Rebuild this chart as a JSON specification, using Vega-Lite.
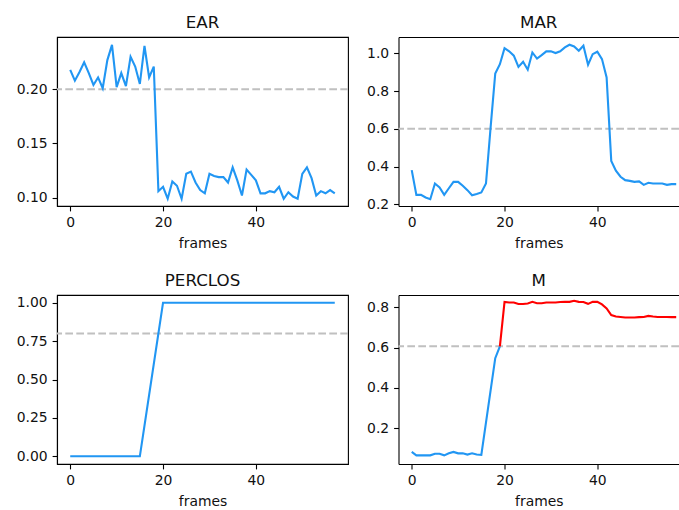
{
  "$schema": "https://vega.github.io/schema/vega-lite/v6.json",
  "background": "white",
  "padding": {"left": 15, "top": 14, "right": 0, "bottom": 0},
  "config": {
    "font": "DejaVu Sans",
    "view": {"stroke": "#000", "strokeWidth": 1.1},
    "axis": {
      "labelFont": "DejaVu Sans", "labelFontSize": 13.9, "labelColor": "#111",
      "titleFont": "DejaVu Sans", "titleFontSize": 13.9, "titleFontWeight": "normal", "titleColor": "#111",
      "tickColor": "#000", "tickSize": 4.9, "tickWidth": 1.1, "labelPadding": 4.9,
      "domainColor": "#000", "domainWidth": 1.1, "grid": false, "titlePadding": 7
    },
    "title": {"font": "DejaVu Sans", "fontSize": 16.7, "fontWeight": "normal", "color": "#111", "offset": 5, "baseline": "alphabetic", "anchor": "middle"}
  },
  "datasets": {
    "ear": [
      {"frame": 0, "v": 0.218}, {"frame": 1, "v": 0.208}, {"frame": 2, "v": 0.216}, {"frame": 3, "v": 0.225},
      {"frame": 4, "v": 0.215}, {"frame": 5, "v": 0.204}, {"frame": 6, "v": 0.211}, {"frame": 7, "v": 0.201},
      {"frame": 8, "v": 0.227}, {"frame": 9, "v": 0.241}, {"frame": 10, "v": 0.202}, {"frame": 11, "v": 0.215},
      {"frame": 12, "v": 0.203}, {"frame": 13, "v": 0.230}, {"frame": 14, "v": 0.221}, {"frame": 15, "v": 0.205},
      {"frame": 16, "v": 0.240}, {"frame": 17, "v": 0.211}, {"frame": 18, "v": 0.221}, {"frame": 19, "v": 0.106},
      {"frame": 20, "v": 0.110}, {"frame": 21, "v": 0.099}, {"frame": 22, "v": 0.115}, {"frame": 23, "v": 0.111},
      {"frame": 24, "v": 0.099}, {"frame": 25, "v": 0.122}, {"frame": 26, "v": 0.124}, {"frame": 27, "v": 0.114},
      {"frame": 28, "v": 0.107}, {"frame": 29, "v": 0.104}, {"frame": 30, "v": 0.122}, {"frame": 31, "v": 0.120},
      {"frame": 32, "v": 0.119}, {"frame": 33, "v": 0.119}, {"frame": 34, "v": 0.114}, {"frame": 35, "v": 0.128},
      {"frame": 36, "v": 0.116}, {"frame": 37, "v": 0.102}, {"frame": 38, "v": 0.126}, {"frame": 39, "v": 0.121},
      {"frame": 40, "v": 0.116}, {"frame": 41, "v": 0.104}, {"frame": 42, "v": 0.104}, {"frame": 43, "v": 0.106},
      {"frame": 44, "v": 0.105}, {"frame": 45, "v": 0.110}, {"frame": 46, "v": 0.099}, {"frame": 47, "v": 0.105},
      {"frame": 48, "v": 0.101}, {"frame": 49, "v": 0.099}, {"frame": 50, "v": 0.122}, {"frame": 51, "v": 0.128},
      {"frame": 52, "v": 0.118}, {"frame": 53, "v": 0.102}, {"frame": 54, "v": 0.106}, {"frame": 55, "v": 0.104},
      {"frame": 56, "v": 0.107}, {"frame": 57, "v": 0.104}
    ],
    "mar": [
      {"frame": 0, "v": 0.381}, {"frame": 1, "v": 0.250}, {"frame": 2, "v": 0.250}, {"frame": 3, "v": 0.236},
      {"frame": 4, "v": 0.227}, {"frame": 5, "v": 0.310}, {"frame": 6, "v": 0.289}, {"frame": 7, "v": 0.250},
      {"frame": 8, "v": 0.285}, {"frame": 9, "v": 0.319}, {"frame": 10, "v": 0.319}, {"frame": 11, "v": 0.298},
      {"frame": 12, "v": 0.275}, {"frame": 13, "v": 0.248}, {"frame": 14, "v": 0.255}, {"frame": 15, "v": 0.263},
      {"frame": 16, "v": 0.310}, {"frame": 17, "v": 0.607}, {"frame": 18, "v": 0.893}, {"frame": 19, "v": 0.942},
      {"frame": 20, "v": 1.027}, {"frame": 21, "v": 1.010}, {"frame": 22, "v": 0.987}, {"frame": 23, "v": 0.928},
      {"frame": 24, "v": 0.955}, {"frame": 25, "v": 0.913}, {"frame": 26, "v": 1.004}, {"frame": 27, "v": 0.972},
      {"frame": 28, "v": 0.990}, {"frame": 29, "v": 1.010}, {"frame": 30, "v": 1.010}, {"frame": 31, "v": 1.001},
      {"frame": 32, "v": 1.010}, {"frame": 33, "v": 1.031}, {"frame": 34, "v": 1.045}, {"frame": 35, "v": 1.036},
      {"frame": 36, "v": 1.013}, {"frame": 37, "v": 1.040}, {"frame": 38, "v": 0.939}, {"frame": 39, "v": 0.995},
      {"frame": 40, "v": 1.008}, {"frame": 41, "v": 0.969}, {"frame": 42, "v": 0.872}, {"frame": 43, "v": 0.430},
      {"frame": 44, "v": 0.378}, {"frame": 45, "v": 0.346}, {"frame": 46, "v": 0.328}, {"frame": 47, "v": 0.324},
      {"frame": 48, "v": 0.319}, {"frame": 49, "v": 0.321}, {"frame": 50, "v": 0.303}, {"frame": 51, "v": 0.314},
      {"frame": 52, "v": 0.310}, {"frame": 53, "v": 0.310}, {"frame": 54, "v": 0.310}, {"frame": 55, "v": 0.303},
      {"frame": 56, "v": 0.307}, {"frame": 57, "v": 0.307}
    ],
    "perclos": [
      {"frame": 0, "v": 0}, {"frame": 1, "v": 0}, {"frame": 2, "v": 0}, {"frame": 3, "v": 0},
      {"frame": 4, "v": 0}, {"frame": 5, "v": 0}, {"frame": 6, "v": 0}, {"frame": 7, "v": 0},
      {"frame": 8, "v": 0}, {"frame": 9, "v": 0}, {"frame": 10, "v": 0}, {"frame": 11, "v": 0},
      {"frame": 12, "v": 0}, {"frame": 13, "v": 0}, {"frame": 14, "v": 0}, {"frame": 15, "v": 0},
      {"frame": 16, "v": 0.2}, {"frame": 17, "v": 0.4}, {"frame": 18, "v": 0.6}, {"frame": 19, "v": 0.8},
      {"frame": 20, "v": 1}, {"frame": 21, "v": 1}, {"frame": 22, "v": 1}, {"frame": 23, "v": 1},
      {"frame": 24, "v": 1}, {"frame": 25, "v": 1}, {"frame": 26, "v": 1}, {"frame": 27, "v": 1},
      {"frame": 28, "v": 1}, {"frame": 29, "v": 1}, {"frame": 30, "v": 1}, {"frame": 31, "v": 1},
      {"frame": 32, "v": 1}, {"frame": 33, "v": 1}, {"frame": 34, "v": 1}, {"frame": 35, "v": 1},
      {"frame": 36, "v": 1}, {"frame": 37, "v": 1}, {"frame": 38, "v": 1}, {"frame": 39, "v": 1},
      {"frame": 40, "v": 1}, {"frame": 41, "v": 1}, {"frame": 42, "v": 1}, {"frame": 43, "v": 1},
      {"frame": 44, "v": 1}, {"frame": 45, "v": 1}, {"frame": 46, "v": 1}, {"frame": 47, "v": 1},
      {"frame": 48, "v": 1}, {"frame": 49, "v": 1}, {"frame": 50, "v": 1}, {"frame": 51, "v": 1},
      {"frame": 52, "v": 1}, {"frame": 53, "v": 1}, {"frame": 54, "v": 1}, {"frame": 55, "v": 1},
      {"frame": 56, "v": 1}, {"frame": 57, "v": 1}
    ],
    "m": [
      {"frame": 0, "v": 0.082, "seg": "below"}, {"frame": 1, "v": 0.065, "seg": "below"}, {"frame": 2, "v": 0.065, "seg": "below"},
      {"frame": 3, "v": 0.065, "seg": "below"}, {"frame": 4, "v": 0.065, "seg": "below"}, {"frame": 5, "v": 0.073, "seg": "below"},
      {"frame": 6, "v": 0.073, "seg": "below"}, {"frame": 7, "v": 0.065, "seg": "below"}, {"frame": 8, "v": 0.075, "seg": "below"},
      {"frame": 9, "v": 0.082, "seg": "below"}, {"frame": 10, "v": 0.075, "seg": "below"}, {"frame": 11, "v": 0.075, "seg": "below"},
      {"frame": 12, "v": 0.069, "seg": "below"}, {"frame": 13, "v": 0.075, "seg": "below"}, {"frame": 14, "v": 0.069, "seg": "below"},
      {"frame": 15, "v": 0.067, "seg": "below"}, {"frame": 16, "v": 0.228, "seg": "below"}, {"frame": 17, "v": 0.388, "seg": "below"},
      {"frame": 18, "v": 0.548, "seg": "below"}, {"frame": 19, "v": 0.607, "seg": "below"},
      {"frame": 19, "v": 0.607, "seg": "above"}, {"frame": 20, "v": 0.828, "seg": "above"}, {"frame": 21, "v": 0.825, "seg": "above"},
      {"frame": 22, "v": 0.825, "seg": "above"}, {"frame": 23, "v": 0.817, "seg": "above"}, {"frame": 24, "v": 0.817, "seg": "above"},
      {"frame": 25, "v": 0.820, "seg": "above"}, {"frame": 26, "v": 0.828, "seg": "above"}, {"frame": 27, "v": 0.821, "seg": "above"},
      {"frame": 28, "v": 0.821, "seg": "above"}, {"frame": 29, "v": 0.825, "seg": "above"}, {"frame": 30, "v": 0.825, "seg": "above"},
      {"frame": 31, "v": 0.825, "seg": "above"}, {"frame": 32, "v": 0.827, "seg": "above"}, {"frame": 33, "v": 0.828, "seg": "above"},
      {"frame": 34, "v": 0.828, "seg": "above"}, {"frame": 35, "v": 0.833, "seg": "above"}, {"frame": 36, "v": 0.828, "seg": "above"},
      {"frame": 37, "v": 0.827, "seg": "above"}, {"frame": 38, "v": 0.818, "seg": "above"}, {"frame": 39, "v": 0.828, "seg": "above"},
      {"frame": 40, "v": 0.828, "seg": "above"}, {"frame": 41, "v": 0.815, "seg": "above"}, {"frame": 42, "v": 0.795, "seg": "above"},
      {"frame": 43, "v": 0.762, "seg": "above"}, {"frame": 44, "v": 0.755, "seg": "above"}, {"frame": 45, "v": 0.753, "seg": "above"},
      {"frame": 46, "v": 0.750, "seg": "above"}, {"frame": 47, "v": 0.750, "seg": "above"}, {"frame": 48, "v": 0.750, "seg": "above"},
      {"frame": 49, "v": 0.752, "seg": "above"}, {"frame": 50, "v": 0.753, "seg": "above"}, {"frame": 51, "v": 0.758, "seg": "above"},
      {"frame": 52, "v": 0.755, "seg": "above"}, {"frame": 53, "v": 0.753, "seg": "above"}, {"frame": 54, "v": 0.753, "seg": "above"},
      {"frame": 55, "v": 0.753, "seg": "above"}, {"frame": 56, "v": 0.752, "seg": "above"}, {"frame": 57, "v": 0.752, "seg": "above"}
    ]
  },
  "columns": 2,
  "bounds": "flush",
  "spacing": {"row": 89, "column": 50.5},
  "concat": [
    {
      "title": "EAR",
      "width": 291, "height": 169,
      "layer": [
        {
          "data": {"values": [{"v": 0.2}]},
          "mark": {"type": "rule", "color": "#c0c0c0", "strokeWidth": 2, "strokeDash": [7.7, 3.3]},
          "encoding": {"y": {"field": "v", "type": "quantitative", "scale": {"domain": [0.0923, 0.2483], "nice": false, "zero": false}, "axis": {"values": [0.1, 0.15, 0.2], "format": ".2f", "title": null}}}
        },
        {
          "data": {"name": "ear"},
          "mark": {"type": "line", "color": "#2196F3", "strokeWidth": 2.1},
          "encoding": {
            "x": {"field": "frame", "type": "quantitative", "scale": {"domain": [-2.85, 59.85], "nice": false, "zero": false}, "axis": {"values": [0, 20, 40], "title": "frames"}},
            "y": {"field": "v", "type": "quantitative", "scale": {"domain": [0.0923, 0.2483], "nice": false, "zero": false}, "axis": {"values": [0.1, 0.15, 0.2], "format": ".2f", "title": null}}
          }
        }
      ]
    },
    {
      "title": "MAR",
      "width": 280.5, "height": 169,
      "view": {"stroke": null},
      "resolve": {"axis": {"x": "independent"}},
      "layer": [
        {
          "data": {"values": [{"v": 0.6}]},
          "mark": {"type": "rule", "color": "#c0c0c0", "strokeWidth": 2, "strokeDash": [7.7, 3.3]},
          "encoding": {"y": {"field": "v", "type": "quantitative", "scale": {"domain": [0.191, 1.086], "nice": false, "zero": false}, "axis": {"values": [0.2, 0.4, 0.6, 0.8, 1.0], "format": ".1f", "title": null}}}
        },
        {
          "data": {"name": "mar"},
          "mark": {"type": "line", "color": "#2196F3", "strokeWidth": 2.1},
          "encoding": {
            "x": {"field": "frame", "type": "quantitative", "scale": {"domain": [-2.85, 57.6], "nice": false, "zero": false}, "axis": {"values": [0, 20, 40], "title": "frames"}},
            "y": {"field": "v", "type": "quantitative", "scale": {"domain": [0.191, 1.086], "nice": false, "zero": false}, "axis": {"values": [0.2, 0.4, 0.6, 0.8, 1.0], "format": ".1f", "title": null}}
          }
        },
        {
          "data": {"name": "mar"},
          "mark": {"type": "line", "opacity": 0},
          "encoding": {
            "x": {"field": "frame", "type": "quantitative", "scale": {"domain": [-2.85, 57.6], "nice": false, "zero": false}, "axis": {"orient": "top", "labels": false, "ticks": false, "title": null, "domain": true}},
            "y": {"field": "v", "type": "quantitative", "scale": {"domain": [0.191, 1.086], "nice": false, "zero": false}, "axis": {"values": [0.2, 0.4, 0.6, 0.8, 1.0], "format": ".1f", "title": null}}
          }
        }
      ]
    },
    {
      "title": "PERCLOS",
      "width": 291, "height": 169,
      "layer": [
        {
          "data": {"values": [{"v": 0.8}]},
          "mark": {"type": "rule", "color": "#c0c0c0", "strokeWidth": 2, "strokeDash": [7.7, 3.3]},
          "encoding": {"y": {"field": "v", "type": "quantitative", "scale": {"domain": [-0.05, 1.05], "nice": false, "zero": false}, "axis": {"values": [0, 0.25, 0.5, 0.75, 1], "format": ".2f", "title": null}}}
        },
        {
          "data": {"name": "perclos"},
          "mark": {"type": "line", "color": "#2196F3", "strokeWidth": 2.1},
          "encoding": {
            "x": {"field": "frame", "type": "quantitative", "scale": {"domain": [-2.85, 59.85], "nice": false, "zero": false}, "axis": {"values": [0, 20, 40], "title": "frames"}},
            "y": {"field": "v", "type": "quantitative", "scale": {"domain": [-0.05, 1.05], "nice": false, "zero": false}, "axis": {"values": [0, 0.25, 0.5, 0.75, 1], "format": ".2f", "title": null}}
          }
        }
      ]
    },
    {
      "title": "M",
      "width": 280.5, "height": 169,
      "view": {"stroke": null},
      "resolve": {"axis": {"x": "independent"}},
      "layer": [
        {
          "data": {"values": [{"v": 0.607}]},
          "mark": {"type": "rule", "color": "#c0c0c0", "strokeWidth": 2, "strokeDash": [7.7, 3.3]},
          "encoding": {"y": {"field": "v", "type": "quantitative", "scale": {"domain": [0.022, 0.862], "nice": false, "zero": false}, "axis": {"values": [0.2, 0.4, 0.6, 0.8], "format": ".1f", "title": null}}}
        },
        {
          "data": {"name": "m"},
          "mark": {"type": "line", "strokeWidth": 2.1},
          "encoding": {
            "x": {"field": "frame", "type": "quantitative", "scale": {"domain": [-2.85, 57.6], "nice": false, "zero": false}, "axis": {"values": [0, 20, 40], "title": "frames"}},
            "y": {"field": "v", "type": "quantitative", "scale": {"domain": [0.022, 0.862], "nice": false, "zero": false}, "axis": {"values": [0.2, 0.4, 0.6, 0.8], "format": ".1f", "title": null}},
            "color": {"field": "seg", "type": "nominal", "scale": {"domain": ["below", "above"], "range": ["#2196F3", "#FF0000"]}, "legend": null}
          }
        },
        {
          "data": {"name": "m"},
          "mark": {"type": "line", "opacity": 0},
          "encoding": {
            "x": {"field": "frame", "type": "quantitative", "scale": {"domain": [-2.85, 57.6], "nice": false, "zero": false}, "axis": {"orient": "top", "labels": false, "ticks": false, "title": null, "domain": true}},
            "y": {"field": "v", "type": "quantitative", "scale": {"domain": [0.022, 0.862], "nice": false, "zero": false}, "axis": {"values": [0.2, 0.4, 0.6, 0.8], "format": ".1f", "title": null}}
          }
        }
      ]
    }
  ]
}
